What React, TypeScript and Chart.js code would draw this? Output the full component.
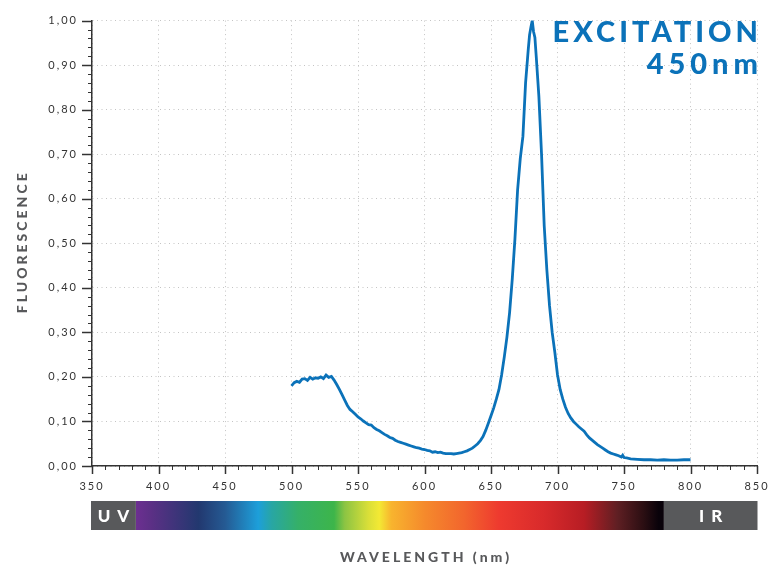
import React, { useEffect, useRef } from "react";
import { Chart, registerables } from "chart.js";

Chart.register(...registerables);

// ---- data ----
const wavelengths = [
  500, 502, 504, 506, 508, 510, 512, 514, 516, 518, 520, 522, 524, 526, 528, 530,
  532, 534, 536, 538, 540, 542, 544, 546, 548, 550, 552, 554, 556, 558, 560, 562,
  564, 566, 568, 570, 572, 574, 576, 578, 580, 582, 584, 586, 588, 590, 592, 594,
  596, 598, 600, 602, 604, 606, 608, 610, 612, 614, 616, 618, 620, 622, 624, 626,
  628, 630, 632, 634, 636, 638, 640, 642, 644, 646, 648, 650, 652, 654, 656, 658,
  660, 662, 664, 666, 668, 670, 671, 672, 674, 676, 678, 679, 680, 681, 682, 683,
  684, 686, 688, 690, 692, 694, 696, 698, 700, 702, 704, 706, 708, 710, 712, 714,
  716, 718, 720, 722, 724, 726, 728, 730, 732, 734, 736, 738, 740, 742, 744, 746,
  748, 749, 750, 752, 755, 760, 765, 770, 775, 780, 785, 790, 795, 800,
];
const fluorescence = [
  0.180, 0.187, 0.190, 0.188, 0.195, 0.196, 0.192, 0.199, 0.195, 0.198, 0.197, 0.200, 0.196, 0.204, 0.199, 0.201,
  0.193, 0.183, 0.172, 0.160, 0.148, 0.136, 0.127, 0.122, 0.116, 0.110, 0.106, 0.101, 0.097, 0.093, 0.092, 0.086,
  0.082, 0.079, 0.075, 0.071, 0.068, 0.064, 0.062, 0.058, 0.055, 0.053, 0.051, 0.049, 0.047, 0.045, 0.043, 0.041,
  0.040, 0.038, 0.037, 0.035, 0.034, 0.031, 0.032, 0.030, 0.031, 0.029, 0.028, 0.028, 0.028, 0.027, 0.028, 0.029,
  0.030, 0.032, 0.034, 0.037, 0.040, 0.045, 0.050, 0.057, 0.066, 0.080, 0.096, 0.113, 0.130, 0.150, 0.172, 0.205,
  0.245, 0.290, 0.345, 0.420, 0.510, 0.620, 0.655, 0.690, 0.740, 0.860, 0.935, 0.968, 0.985, 1.000, 0.975, 0.962,
  0.920, 0.830, 0.700, 0.540, 0.440, 0.360, 0.300, 0.255, 0.205, 0.172, 0.150, 0.132, 0.118, 0.108, 0.100, 0.094,
  0.088, 0.083, 0.078, 0.070, 0.063, 0.058, 0.053, 0.048, 0.044, 0.040, 0.036, 0.032, 0.029, 0.027, 0.025, 0.023,
  0.020, 0.024, 0.019, 0.018, 0.016, 0.015, 0.014, 0.014, 0.013, 0.014, 0.013, 0.013, 0.014, 0.014,
];
const xMajorTicks = [350, 400, 450, 500, 550, 600, 650, 700, 750, 800, 850];
const yTickLabels = ["0,00", "0,10", "0,20", "0,30", "0,40", "0,50", "0,60", "0,70", "0,80", "0,90", "1,00"];
const titleLines = ["EXCITATION", "450nm"];
const xAxisTitle = "WAVELENGTH (nm)";
const yAxisTitle = "FLUORESCENCE";
const spectrumStart = 383;
const spectrumEnd = 780;
const spectrumStopsNm = [383, 395, 430, 450, 475, 485, 505, 532, 540, 558, 566, 575, 600, 630, 656, 690, 720, 745, 765, 776, 780];
const spectrumStopColors = [
  "#6d2f91", "#5b3085", "#22386f", "#255a93", "#1d9fda", "#28a6a4", "#35b068", "#3db54a", "#8cc443", "#dadf38",
  "#f3e934", "#f8b42e", "#f58a2c", "#f2652d", "#ee3a2f", "#d82a2b", "#b71d24", "#5f1f23", "#2a0e12", "#09020a", "#09020a",
];

const FONT = "Lato, 'Open Sans', sans-serif";
const AXIS_COLOR = "#333333";
const GREY = "#58595b";
const BLUE = "#0b72b9";

const decorPlugin = {
  id: "decor",
  beforeDraw(chart: any) {
    (chart.ctx as any).letterSpacing = "2px";
  },
  afterDraw(chart: any) {
    const ctx = chart.ctx as any;
    const xs = chart.scales.x;
    const ys = chart.scales.y;
    const area = chart.chartArea;
    ctx.save();
    ctx.letterSpacing = "0px";
    // ticks
    ctx.strokeStyle = AXIS_COLOR;
    for (let v = 350; v <= 850; v += 10) {
      const px = Math.round(xs.getPixelForValue(v)) + 0.5;
      const major = v % 50 === 0;
      ctx.lineWidth = major ? 1.5 : 1;
      ctx.beginPath();
      ctx.moveTo(px, area.bottom);
      ctx.lineTo(px, area.bottom + (major ? 8 : 4));
      ctx.stroke();
    }
    for (let i = 0; i <= 50; i++) {
      const py = Math.round(ys.getPixelForValue(i / 50)) + 0.5;
      const major = i % 5 === 0;
      ctx.lineWidth = major ? 1.5 : 1;
      ctx.beginPath();
      ctx.moveTo(area.left - (major ? 10 : 4), py);
      ctx.lineTo(area.left, py);
      ctx.stroke();
    }
    // spectrum bar
    const barTop = 501;
    const barH = 29;
    const x0 = xs.getPixelForValue(spectrumStart);
    const x1 = xs.getPixelForValue(spectrumEnd);
    const grad = ctx.createLinearGradient(x0, 0, x1, 0);
    spectrumStopsNm.forEach((nm, i) => {
      grad.addColorStop((nm - spectrumStart) / (spectrumEnd - spectrumStart), spectrumStopColors[i]);
    });
    ctx.fillStyle = grad;
    ctx.fillRect(x0, barTop, x1 - x0, barH);
    const left = area.left - 1;
    const right = area.right + 0.5;
    ctx.fillStyle = GREY;
    ctx.fillRect(left, barTop, x0 - left, barH);
    ctx.fillRect(x1, barTop, right - x1, barH);
    ctx.fillStyle = "#ffffff";
    ctx.font = `900 17px ${FONT}`;
    ctx.textBaseline = "middle";
    ctx.textAlign = "center";
    ctx.letterSpacing = "7px";
    ctx.fillText("UV", (left + x0) / 2 + 3.5, barTop + barH / 2 + 1);
    ctx.fillText("IR", (x1 + right) / 2 + 3.5, barTop + barH / 2 + 1);
    // axis titles
    ctx.fillStyle = GREY;
    ctx.font = `900 14px ${FONT}`;
    ctx.letterSpacing = "3px";
    ctx.fillText(xAxisTitle, (area.left + area.right) / 2 + 1.5, 557);
    ctx.save();
    ctx.translate(22, (area.top + area.bottom) / 2);
    ctx.rotate(-Math.PI / 2);
    ctx.fillText(yAxisTitle, 1.5, 0);
    ctx.restore();
    // title
    ctx.fillStyle = BLUE;
    ctx.font = `900 29px ${FONT}`;
    ctx.textAlign = "right";
    ctx.textBaseline = "alphabetic";
    ctx.letterSpacing = "4px";
    ctx.fillText(titleLines[0], 758 + 4, 42);
    ctx.letterSpacing = "5px";
    ctx.fillText(titleLines[1], 758 + 5, 74);
    ctx.restore();
    ctx.letterSpacing = "0px";
  },
};

export default function App() {
  const ref = useRef<HTMLCanvasElement>(null);
  useEffect(() => {
    document.body.style.margin = "0";
    const chart = new Chart(ref.current as HTMLCanvasElement, {
      type: "line",
      data: {
        datasets: [
          {
            data: wavelengths.map((w, i) => ({ x: w, y: fluorescence[i] })),
            borderColor: BLUE,
            borderWidth: 2.8,
            pointRadius: 0,
            tension: 0,
            fill: false,
          },
        ],
      },
      options: {
        responsive: false,
        animation: false,
        devicePixelRatio: 1,
        layout: { padding: { top: 19, right: 24, left: 0, bottom: 0 } },
        plugins: { legend: { display: false }, tooltip: { enabled: false } },
        scales: {
          x: {
            type: "linear",
            min: 350,
            max: 850,
            afterFit: (s: any) => {
              s.height = 101;
            },
            afterBuildTicks: (s: any) => {
              const t = [];
              for (let v = 350; v <= 850; v += 10) t.push({ value: v });
              s.ticks = t;
            },
            ticks: {
              autoSkip: false,
              maxRotation: 0,
              padding: 14,
              color: AXIS_COLOR,
              font: { family: FONT, size: 11 },
              callback: (v: any) => (xMajorTicks.includes(v) ? String(v) : ""),
            },
            grid: {
              drawTicks: false,
              color: (c: any) => (c.tick && c.tick.value % 50 === 0 ? "#c4c4c4" : "rgba(0,0,0,0)"),
              lineWidth: 1,
            },
            border: { display: true, color: AXIS_COLOR, width: 1.5, dash: [1, 3.5] },
          },
          y: {
            min: 0,
            max: 1,
            afterFit: (s: any) => {
              s.width = 92;
            },
            afterBuildTicks: (s: any) => {
              const t = [];
              for (let i = 0; i <= 50; i++) t.push({ value: i / 50 });
              s.ticks = t;
            },
            ticks: {
              autoSkip: false,
              padding: 14,
              color: AXIS_COLOR,
              font: { family: FONT, size: 11 },
              callback: (v: any) => {
                const idx = Math.round(v * 50);
                return idx % 5 === 0 ? yTickLabels[idx / 5] : "";
              },
            },
            grid: {
              drawTicks: false,
              color: (c: any) => (c.tick && Math.round(c.tick.value * 50) % 5 === 0 ? "#c4c4c4" : "rgba(0,0,0,0)"),
              lineWidth: 1,
            },
            border: { display: true, color: AXIS_COLOR, width: 1.5, dash: [1, 3.5] },
          },
        },
      },
      plugins: [decorPlugin],
    });
    return () => chart.destroy();
  }, []);
  return (
    <div style={{ position: "fixed", left: 0, top: 0, width: 781, height: 567, background: "#fff" }}>
      <canvas ref={ref} width={781} height={567} />
    </div>
  );
}
